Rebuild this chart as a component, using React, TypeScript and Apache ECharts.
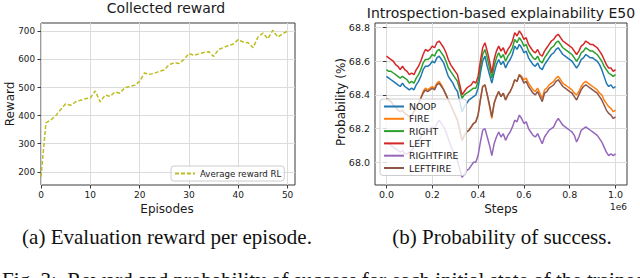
import React, { useEffect, useRef } from "react";
import * as echarts from "echarts";

// ---------- Left chart data ----------
const episodes = Array.from({ length: 51 }, (_, i) => i);
const rewardRL = [
  182, 374, 385, 400, 422, 442, 437, 449, 455, 460, 463, 488, 449, 473, 469, 484, 480, 500, 504, 508,
  522, 552, 547, 551, 558, 563, 582, 588, 586, 600, 621, 615, 620, 625, 628, 611, 636, 642, 650, 655,
  671, 662, 660, 642, 680, 694, 674, 704, 680, 692, 701,
];
const leftXTicks = [0, 10, 20, 30, 40, 50];
const leftYTicks = [200, 300, 400, 500, 600, 700];

// ---------- Right chart data ----------
const steps = Array.from({ length: 101 }, (_, i) => i * 10000);
const noop = [
  68.51, 68.50, 68.49, 68.48, 68.47, 68.46, 68.45, 68.47, 68.45, 68.44, 68.43, 68.44, 68.43, 68.46, 68.48, 68.51, 68.55, 68.57, 68.57, 68.58,
  68.60, 68.59, 68.62, 68.63, 68.61, 68.59, 68.55, 68.51, 68.49, 68.47, 68.44, 68.42, 68.36, 68.30, 68.33, 68.35, 68.37, 68.38, 68.39, 68.40,
  68.44, 68.53, 68.60, 68.63, 68.57, 68.52, 68.47, 68.53, 68.58, 68.61, 68.58, 68.60, 68.56, 68.59, 68.61, 68.64, 68.69, 68.67, 68.70, 68.68,
  68.65, 68.66, 68.62, 68.60, 68.58, 68.57, 68.59, 68.56, 68.55, 68.58, 68.60, 68.62, 68.64, 68.65, 68.67, 68.68, 68.66, 68.64, 68.63, 68.62,
  68.61, 68.60, 68.58, 68.56, 68.58, 68.61, 68.62, 68.64, 68.63, 68.62, 68.62, 68.61, 68.60, 68.58, 68.55, 68.51, 68.47, 68.45, 68.46, 68.44,
  68.45,
];
const fire = [
  68.38, 68.37, 68.36, 68.34, 68.33, 68.31, 68.30, 68.31, 68.29, 68.28, 68.27, 68.28, 68.30, 68.32, 68.35, 68.38, 68.42, 68.44, 68.43, 68.44,
  68.45, 68.44, 68.47, 68.48, 68.46, 68.43, 68.40, 68.37, 68.34, 68.31, 68.28, 68.25, 68.19, 68.13, 68.16, 68.18, 68.19, 68.21, 68.23, 68.24,
  68.28, 68.37, 68.45, 68.46, 68.40, 68.33, 68.26, 68.35, 68.39, 68.42, 68.39, 68.41, 68.37, 68.40, 68.42, 68.45, 68.49, 68.48, 68.52, 68.51,
  68.49, 68.50, 68.47, 68.45, 68.43, 68.42, 68.44, 68.41, 68.38, 68.43, 68.44, 68.46, 68.47, 68.48, 68.50, 68.51, 68.49, 68.47, 68.46, 68.45,
  68.44, 68.43, 68.41, 68.40, 68.42, 68.45, 68.47, 68.48, 68.47, 68.46, 68.45, 68.44, 68.43, 68.41, 68.40, 68.37, 68.35, 68.33, 68.32, 68.30,
  68.31,
];
const right = [
  68.55, 68.54, 68.54, 68.53, 68.52, 68.51, 68.50, 68.51, 68.50, 68.49, 68.47, 68.48, 68.47, 68.50, 68.52, 68.55, 68.59, 68.61, 68.61, 68.62,
  68.64, 68.63, 68.66, 68.67, 68.65, 68.63, 68.60, 68.56, 68.54, 68.52, 68.50, 68.48, 68.43, 68.38, 68.40, 68.41, 68.42, 68.43, 68.44, 68.44,
  68.48, 68.56, 68.64, 68.67, 68.62, 68.56, 68.50, 68.57, 68.62, 68.65, 68.62, 68.64, 68.60, 68.63, 68.65, 68.68, 68.73, 68.71, 68.74, 68.72,
  68.69, 68.70, 68.66, 68.64, 68.62, 68.61, 68.63, 68.60, 68.59, 68.62, 68.64, 68.66, 68.68, 68.69, 68.71, 68.72, 68.70, 68.68, 68.67, 68.66,
  68.65, 68.64, 68.62, 68.60, 68.62, 68.65, 68.66, 68.68, 68.67, 68.66, 68.66, 68.65, 68.64, 68.62, 68.60, 68.57, 68.55, 68.53, 68.52, 68.51,
  68.52,
];
const left = [
  68.63, 68.62, 68.61, 68.60, 68.58, 68.57, 68.55, 68.57, 68.55, 68.54, 68.52, 68.53, 68.52, 68.55, 68.57, 68.60, 68.64, 68.67, 68.66, 68.67,
  68.69, 68.68, 68.71, 68.72, 68.70, 68.68, 68.65, 68.61, 68.58, 68.56, 68.54, 68.52, 68.46, 68.40, 68.42, 68.44, 68.45, 68.46, 68.48, 68.47,
  68.51, 68.60, 68.68, 68.71, 68.66, 68.60, 68.53, 68.61, 68.66, 68.69, 68.66, 68.68, 68.64, 68.67, 68.69, 68.72, 68.77, 68.75, 68.78, 68.76,
  68.73, 68.74, 68.70, 68.68, 68.66, 68.65, 68.67, 68.64, 68.63, 68.66, 68.68, 68.70, 68.72, 68.73, 68.75, 68.76, 68.74, 68.72, 68.71, 68.70,
  68.69, 68.68, 68.66, 68.64, 68.66, 68.69, 68.70, 68.72, 68.71, 68.70, 68.70, 68.69, 68.68, 68.66, 68.64, 68.61, 68.58, 68.56, 68.56, 68.54,
  68.55,
];
const rightFire = [
  68.12, 68.11, 68.10, 68.09, 68.08, 68.07, 68.06, 68.07, 68.05, 68.05, 68.06, 68.07, 68.09, 68.11, 68.13, 68.15, 68.18, 68.20, 68.19, 68.20,
  68.21, 68.20, 68.23, 68.25, 68.23, 68.21, 68.18, 68.14, 68.10, 68.07, 68.04, 68.01, 67.96, 67.91, 67.93, 67.95, 67.96, 67.98, 68.00, 68.00,
  68.04, 68.12, 68.19, 68.20, 68.15, 68.10, 68.04, 68.11, 68.15, 68.18, 68.15, 68.17, 68.13, 68.16, 68.18, 68.21, 68.25, 68.24, 68.28, 68.26,
  68.23, 68.24, 68.20, 68.18, 68.16, 68.15, 68.17, 68.14, 68.11, 68.15, 68.17, 68.19, 68.20, 68.21, 68.24, 68.26, 68.24, 68.22, 68.21, 68.20,
  68.19, 68.18, 68.16, 68.12, 68.15, 68.19, 68.20, 68.21, 68.20, 68.19, 68.18, 68.17, 68.16, 68.14, 68.12, 68.09, 68.06, 68.04, 68.05, 68.04,
  68.05,
];
const leftFire = [
  68.38, 68.37, 68.36, 68.34, 68.33, 68.31, 68.30, 68.31, 68.29, 68.28, 68.27, 68.28, 68.30, 68.32, 68.35, 68.38, 68.41, 68.43, 68.42, 68.43,
  68.44, 68.43, 68.46, 68.47, 68.45, 68.43, 68.40, 68.37, 68.34, 68.31, 68.28, 68.25, 68.19, 68.13, 68.16, 68.18, 68.19, 68.21, 68.23, 68.24,
  68.28, 68.37, 68.45, 68.46, 68.40, 68.34, 68.27, 68.35, 68.39, 68.42, 68.39, 68.41, 68.37, 68.40, 68.42, 68.45, 68.49, 68.48, 68.52, 68.50,
  68.47, 68.48, 68.45, 68.43, 68.41, 68.40, 68.42, 68.39, 68.36, 68.41, 68.42, 68.44, 68.45, 68.46, 68.48, 68.49, 68.47, 68.45, 68.44, 68.43,
  68.42, 68.41, 68.39, 68.37, 68.40, 68.43, 68.45, 68.46, 68.45, 68.44, 68.43, 68.42, 68.41, 68.39, 68.37, 68.34, 68.31, 68.29, 68.28, 68.26,
  68.27,
];
const rightXTicks = [0, 200000, 400000, 600000, 800000, 1000000];
const rightYTicks = [68.0, 68.2, 68.4, 68.6, 68.8];

const seriesNames = ["NOOP", "FIRE", "RIGHT", "LEFT", "RIGHTFIRE", "LEFTFIRE"];
const seriesValues = [noop, fire, right, left, rightFire, leftFire];
const seriesColors = ["#1f77b4", "#ff7f0e", "#2ca02c", "#d62728", "#9467bd", "#8c564b"];

const FONT = "DejaVu Sans";
const TXT = "#1a1a1a";
const SPINE = "#3a3a3a";
const GRIDC = "#dcdcdc";

export default function App() {
  const ref = useRef<HTMLDivElement>(null);
  useEffect(() => {
    if (!ref.current) return;
    const chart = echarts.init(ref.current, undefined, { renderer: "svg" });

    const axisCommon = {
      axisLine: { show: false },
      axisTick: { show: true, length: 3.5, lineStyle: { color: SPINE, width: 1 } },
      splitLine: { show: true, lineStyle: { color: GRIDC, width: 1 } },
    };

    const legendCommon = {
      orient: "vertical",
      itemWidth: 20,
      itemHeight: 10,
      backgroundColor: "rgba(255,255,255,0.8)",
      borderColor: "#cccccc",
      borderWidth: 1,
      borderRadius: 3,
      selectedMode: false,
      itemStyle: { opacity: 0 },
    };

    const option: any = {
      animation: false,
      textStyle: { fontFamily: FONT },
      grid: [
        { left: 41, top: 23, width: 254, height: 162, show: true, borderColor: SPINE, borderWidth: 1, backgroundColor: "transparent" },
        { left: 375, top: 23, width: 252, height: 162, show: true, borderColor: SPINE, borderWidth: 1, backgroundColor: "transparent" },
      ],
      xAxis: [
        {
          gridIndex: 0, type: "value", min: 0, max: 51.5,
          ...axisCommon,
          axisTick: { ...axisCommon.axisTick, customValues: leftXTicks },
          axisLabel: { customValues: leftXTicks, fontSize: 9, color: TXT, margin: 5, fontFamily: FONT },
        },
        {
          gridIndex: 1, type: "value", min: -50000, max: 1050000,
          ...axisCommon,
          axisTick: { ...axisCommon.axisTick, customValues: rightXTicks },
          axisLabel: {
            customValues: rightXTicks, fontSize: 9.5, color: TXT, margin: 4, fontFamily: FONT,
            formatter: (v: number) => (v / 1e6).toFixed(1),
          },
        },
      ],
      yAxis: [
        {
          gridIndex: 0, type: "value", min: 153, max: 730,
          ...axisCommon,
          axisTick: { ...axisCommon.axisTick, customValues: leftYTicks },
          axisLabel: { customValues: leftYTicks, fontSize: 8.8, color: TXT, margin: 6, fontFamily: FONT },
        },
        {
          gridIndex: 1, type: "value", min: 67.865, max: 68.827,
          ...axisCommon,
          axisTick: { ...axisCommon.axisTick, customValues: rightYTicks },
          axisLabel: {
            customValues: rightYTicks, fontSize: 9.5, color: TXT, margin: 5, fontFamily: FONT,
            formatter: (v: number) => v.toFixed(1),
          },
        },
      ],
      legend: [
        {
          ...legendCommon,
          data: ["Average reward RL"],
          left: 171, top: 166,
          itemGap: 3,
          padding: [3, 3, 3, 3],
          textStyle: { fontSize: 8.6, color: TXT, fontFamily: FONT },
        },
        {
          ...legendCommon,
          data: seriesNames,
          left: 380, top: 99,
          itemGap: 3.3,
          padding: [3, 8, 3, 3],
          textStyle: { fontSize: 9.3, color: TXT, fontFamily: FONT },
        },
      ],
      series: [
        {
          name: "Average reward RL",
          type: "line",
          xAxisIndex: 0, yAxisIndex: 0,
          data: episodes.map((e, i) => [e, rewardRL[i]]),
          symbol: "none",
          lineStyle: { color: "#bcbd22", width: 1.5, type: [4, 2] },
          itemStyle: { color: "#bcbd22" },
        },
        ...seriesNames.map((n, k) => ({
          name: n,
          type: "line",
          xAxisIndex: 1, yAxisIndex: 1,
          data: steps.map((s, i) => [s, seriesValues[k][i]]),
          symbol: "none",
          lineStyle: { color: seriesColors[k], width: 1.5 },
          itemStyle: { color: seriesColors[k] },
        })),
      ],
      graphic: [
        { type: "text", x: 166, y: 8, style: { text: "Collected reward", font: `14px '${FONT}'`, fill: TXT, align: "center", verticalAlign: "middle" } },
        { type: "text", x: 501, y: 13, style: { text: "Introspection-based explainability E50", font: `14px '${FONT}'`, fill: TXT, align: "center", verticalAlign: "middle" } },
        { type: "text", x: 9.5, y: 104, rotation: Math.PI / 2, style: { text: "Reward", font: `12px '${FONT}'`, fill: TXT, align: "center", verticalAlign: "middle" } },
        { type: "text", x: 167, y: 209, style: { text: "Episodes", font: `12px '${FONT}'`, fill: TXT, align: "center", verticalAlign: "middle" } },
        { type: "text", x: 341, y: 102, rotation: Math.PI / 2, style: { text: "Probability (%)", font: `12px '${FONT}'`, fill: TXT, align: "center", verticalAlign: "middle" } },
        { type: "text", x: 501, y: 209, style: { text: "Steps", font: `12px '${FONT}'`, fill: TXT, align: "center", verticalAlign: "middle" } },
        { type: "text", x: 627, y: 207, style: { text: "1e6", font: `9px '${FONT}'`, fill: TXT, align: "right", verticalAlign: "middle" } },
        { type: "text", x: 167, y: 237, style: { text: "(a) Evaluation reward per episode.", font: "21px 'Liberation Serif'", fill: "#111", align: "center", verticalAlign: "middle" } },
        { type: "text", x: 502, y: 237, style: { text: "(b) Probability of success.", font: "21px 'Liberation Serif'", fill: "#111", align: "center", verticalAlign: "middle" } },
        { type: "text", x: 2, y: 279.5, style: { text: "Fig. 3:  Reward and probability of success for each initial state of the trained agent.", font: "21px 'Liberation Serif'", fill: "#111", align: "left", verticalAlign: "middle" } },
      ],
    };
    chart.setOption(option);
    return () => chart.dispose();
  }, []);
  return <div ref={ref} style={{ position: "absolute", left: 0, top: 0, width: 640, height: 278 }} />;
}
